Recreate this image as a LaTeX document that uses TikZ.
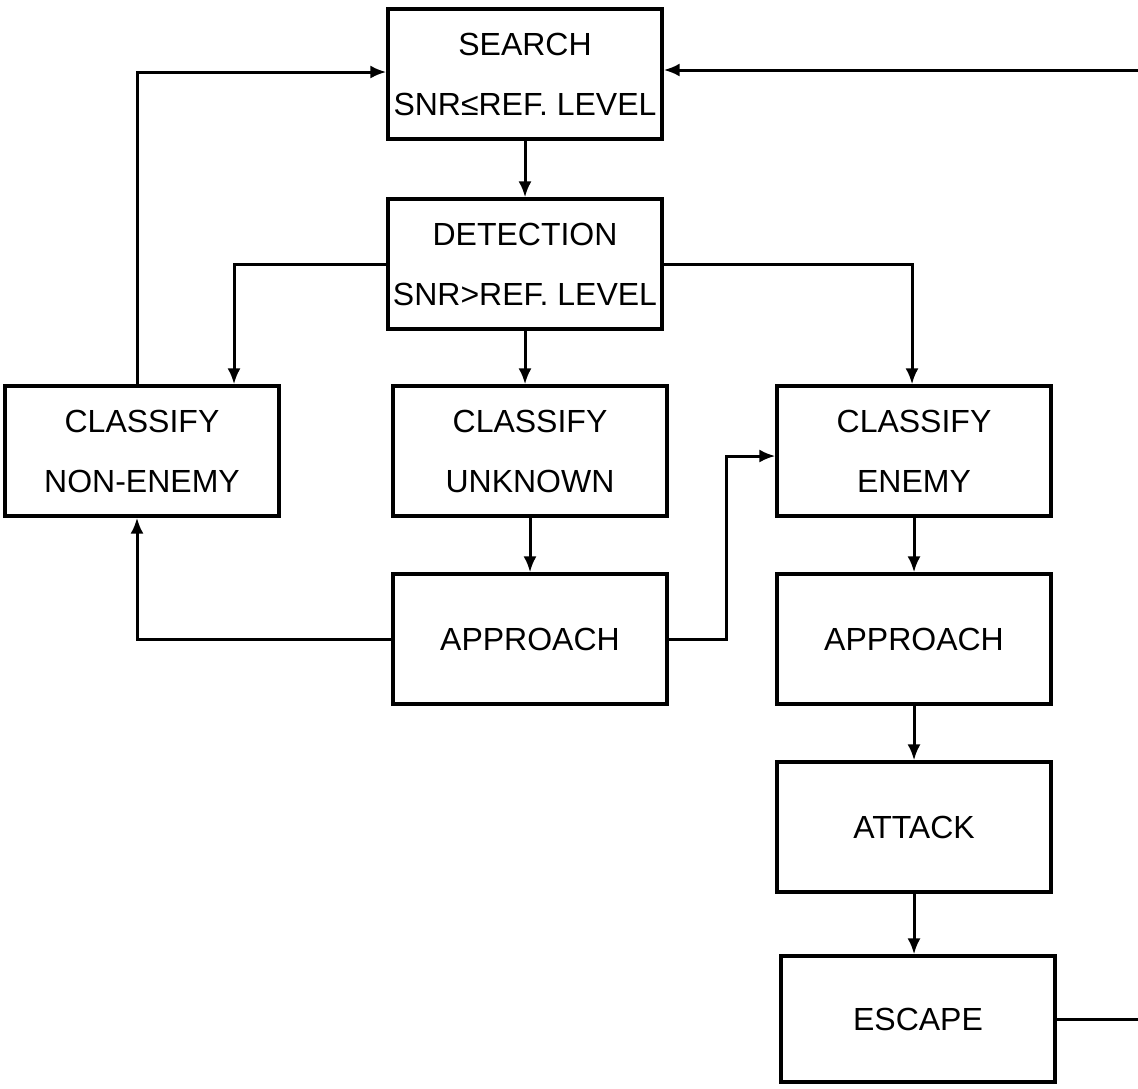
\documentclass[tikz,border=0pt]{standalone}
\usepackage{fontspec}
\setmainfont{Liberation Sans}
\usetikzlibrary{positioning,arrows.meta}
\tikzstyle{sbox}=[rectangle, draw=black, line width=1.6pt, minimum width=137pt,
                  minimum height=65pt, inner sep=0pt, align=center,
                  font=\fontsize{16}{30}\selectfont]
\tikzstyle{sline}=[-, line width=1.5pt]
\tikzstyle{sarrow}=[-{Latex[length=8pt,width=6.5pt]}, line width=1.5pt]

\begin{document}
\begin{tikzpicture}[x=0.5pt,y=-0.5pt]
\useasboundingbox (0,0) rectangle (1138,1088);

\node (SRCH) [sbox] at (525,74) {SEARCH\\SNR≤REF. LEVEL};
\node (DETN) [sbox,below=28.4pt of SRCH] {DETECTION\\SNR>REF. LEVEL};
 \draw[sarrow] (SRCH.south) -- (DETN.north);
\node (CLUNKN) [sbox,below=26.9pt of DETN,xshift=2.5pt] {CLASSIFY\\UNKNOWN};
 \draw[sarrow] (DETN.south) -- (DETN.south |- CLUNKN.north);
\node (CLNONEN) [sbox,left=55.4pt of CLUNKN] {CLASSIFY\\NON-ENEMY};
 \draw[sarrow] (DETN.west) -| ([xshift=46pt]CLNONEN.north);
 \draw[sarrow] ([xshift=-2.5pt]CLNONEN.north) |- ([yshift=1pt]SRCH.west);
\node (CLENEMY) [sbox,right=53.4pt of CLUNKN] {CLASSIFY\\ENEMY};
 \draw[sarrow] (DETN.east) -| ([xshift=-1pt]CLENEMY.north);
\node (APPRUNK) [sbox,below=27.4pt of CLUNKN] {APPROACH};
 \draw[sarrow] (CLUNKN.south) -- (APPRUNK.north);
 \draw[sarrow] (APPRUNK.west) -| ([xshift=-2.5pt]CLNONEN.south);
 \draw[sarrow] (APPRUNK.east) -- ++(58,0) |- ([yshift=-2.5pt]CLENEMY.west);
\node (APPRENM) [sbox,below=27.4pt of CLENEMY] {APPROACH};
 \draw[sarrow] (CLENEMY.south) -- (APPRENM.north);
\node (ATTK) [sbox,below=27.4pt of APPRENM] {ATTACK};
 \draw[sarrow] (APPRENM.south) -- (ATTK.north);
\node (ESCP) [sbox,minimum height=63pt,below=30.4pt of ATTK,xshift=2pt] {ESCAPE};
 \draw[sarrow] (ATTK.south) -- (ATTK.south |- ESCP.north);
 \draw[sarrow] (ESCP.east) -- ++(120,0) |- ([yshift=2pt]SRCH.east);

\end{tikzpicture}
\end{document}
